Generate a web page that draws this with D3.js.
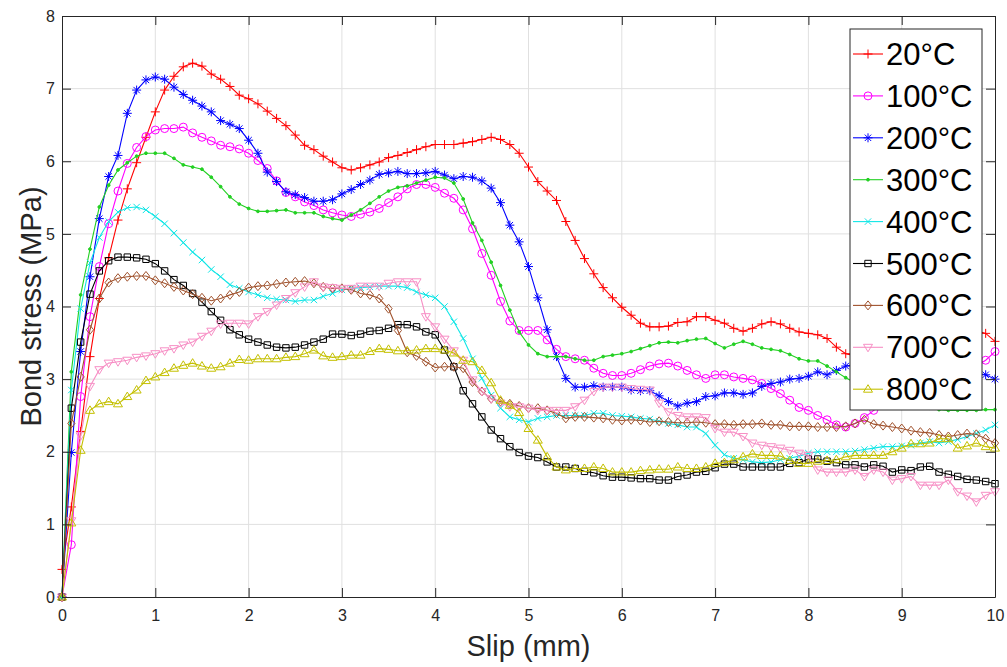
<!DOCTYPE html>
<html>
<head>
<meta charset="utf-8">
<script src="https://cdn.jsdelivr.net/npm/d3@7"></script>
<style>
  body { margin: 0; background: #ffffff; }
  svg text { font-family: Arial, "Liberation Sans", Helvetica, sans-serif; }
</style>
</head>
<body>
<svg id="chart" width="1007" height="667"></svg>
<script>
// ---------------- DATA ----------------
const slip = [0.0,0.1,0.2,0.3,0.4,0.5,0.6,0.7,0.8,0.9,
  1.0,1.1,1.2,1.3,1.4,1.5,1.6,1.7,1.8,1.9,
  2.0,2.1,2.2,2.3,2.4,2.5,2.6,2.7,2.8,2.9,
  3.0,3.1,3.2,3.3,3.4,3.5,3.6,3.7,3.8,3.9,
  4.0,4.1,4.2,4.3,4.4,4.5,4.6,4.7,4.8,4.9,
  5.0,5.1,5.2,5.3,5.4,5.5,5.6,5.7,5.8,5.9,
  6.0,6.1,6.2,6.3,6.4,6.5,6.6,6.7,6.8,6.9,
  7.0,7.1,7.2,7.3,7.4,7.5,7.6,7.7,7.8,7.9,
  8.0,8.1,8.2,8.3,8.4,8.5,8.6,8.7,8.8,8.9,
  9.0,9.1,9.2,9.3,9.4,9.5,9.6,9.7,9.8,9.9,10.0];

const stress20 = [0.38,1.24,2.28,3.31,4.11,4.67,5.19,5.62,5.98,6.33,
  6.68,6.98,7.17,7.30,7.35,7.31,7.20,7.13,7.03,6.91,
  6.86,6.79,6.69,6.59,6.49,6.36,6.22,6.16,6.07,5.99,
  5.91,5.88,5.91,5.95,5.99,6.05,6.08,6.12,6.16,6.20,
  6.23,6.23,6.23,6.25,6.27,6.30,6.33,6.30,6.23,6.11,
  5.92,5.72,5.59,5.46,5.17,4.91,4.66,4.45,4.26,4.12,
  3.99,3.88,3.77,3.72,3.72,3.73,3.78,3.79,3.86,3.86,
  3.81,3.77,3.70,3.66,3.70,3.76,3.79,3.76,3.70,3.65,
  3.63,3.61,3.56,3.44,3.35,3.32,3.34,3.37,3.40,3.43,
  3.46,3.49,3.52,3.54,3.56,3.58,3.61,3.64,3.67,3.63,3.52];

const stress100 = [0,0.72,2.76,3.86,4.55,5.14,5.59,5.97,6.19,6.34,
  6.43,6.45,6.45,6.47,6.39,6.33,6.28,6.22,6.20,6.17,
  6.11,6.01,5.90,5.73,5.57,5.51,5.44,5.39,5.33,5.29,
  5.26,5.24,5.27,5.30,5.35,5.43,5.51,5.62,5.68,5.68,
  5.64,5.56,5.49,5.33,5.07,4.73,4.43,4.07,3.80,3.67,
  3.67,3.67,3.54,3.41,3.31,3.28,3.26,3.15,3.08,3.05,
  3.05,3.08,3.13,3.18,3.21,3.22,3.18,3.12,3.06,3.01,
  3.06,3.06,3.03,3.01,2.99,2.94,2.87,2.80,2.71,2.61,
  2.57,2.50,2.44,2.37,2.34,2.39,2.47,2.57,2.65,2.72,
  2.80,2.88,2.95,3.00,3.05,3.08,3.10,3.13,3.18,3.26,3.38];

const stress200 = [0,1.99,3.38,4.41,5.21,5.79,6.08,6.66,6.98,7.12,
  7.16,7.13,7.02,6.92,6.84,6.76,6.68,6.56,6.51,6.45,
  6.29,6.11,5.85,5.72,5.58,5.54,5.50,5.45,5.45,5.47,
  5.55,5.61,5.68,5.74,5.82,5.84,5.86,5.83,5.83,5.84,
  5.86,5.81,5.76,5.79,5.78,5.73,5.63,5.43,5.12,4.89,
  4.55,4.12,3.68,3.31,3.01,2.89,2.89,2.91,2.89,2.89,
  2.89,2.85,2.84,2.84,2.77,2.69,2.63,2.67,2.69,2.76,
  2.77,2.81,2.81,2.79,2.81,2.90,2.94,2.96,3.00,3.01,
  3.04,3.10,3.06,3.12,3.18,3.20,3.22,3.24,3.25,3.25,
  3.24,3.22,3.20,3.18,3.16,3.14,3.12,3.10,3.08,3.06,3.00];

const stress300 = [0,3.10,4.16,4.79,5.37,5.67,5.88,5.98,6.07,6.11,
  6.11,6.11,6.04,5.95,5.92,5.89,5.78,5.65,5.51,5.41,
  5.35,5.31,5.31,5.32,5.33,5.29,5.29,5.29,5.24,5.21,
  5.19,5.26,5.33,5.42,5.51,5.59,5.64,5.66,5.70,5.74,
  5.78,5.77,5.70,5.48,5.15,4.91,4.61,4.29,3.95,3.65,
  3.47,3.35,3.31,3.31,3.31,3.28,3.26,3.26,3.31,3.33,
  3.35,3.38,3.42,3.46,3.50,3.51,3.50,3.53,3.55,3.56,
  3.49,3.43,3.48,3.52,3.48,3.43,3.41,3.39,3.34,3.28,
  3.25,3.25,3.18,3.10,3.02,2.95,2.88,2.82,2.76,2.72,
  2.68,2.65,2.62,2.60,2.58,2.57,2.57,2.57,2.57,2.58,2.58];

const stress400 = [0,2.85,3.97,4.60,4.95,5.17,5.30,5.36,5.37,5.33,
  5.24,5.14,5.01,4.88,4.75,4.64,4.51,4.41,4.30,4.25,
  4.20,4.16,4.12,4.10,4.09,4.07,4.09,4.09,4.14,4.18,
  4.23,4.25,4.26,4.27,4.28,4.28,4.28,4.26,4.20,4.16,
  4.12,4.00,3.79,3.56,3.28,3.01,2.78,2.60,2.48,2.44,
  2.41,2.46,2.48,2.50,2.50,2.50,2.50,2.53,2.53,2.50,
  2.49,2.48,2.46,2.45,2.42,2.39,2.37,2.34,2.34,2.25,
  2.09,1.96,1.91,1.89,1.86,1.85,1.86,1.89,1.91,1.94,
  1.98,2.00,2.00,2.00,2.00,2.01,2.03,2.05,2.07,2.07,
  2.08,2.09,2.12,2.14,2.12,2.14,2.17,2.21,2.25,2.30,2.37];

const stress500 = [0,2.60,3.51,4.17,4.49,4.63,4.68,4.68,4.67,4.65,
  4.59,4.49,4.37,4.29,4.18,4.06,3.93,3.81,3.68,3.61,
  3.55,3.51,3.47,3.44,3.43,3.44,3.47,3.51,3.55,3.62,
  3.62,3.60,3.62,3.66,3.67,3.70,3.75,3.75,3.72,3.65,
  3.61,3.40,3.17,2.84,2.66,2.48,2.30,2.18,2.07,1.99,
  1.94,1.92,1.86,1.79,1.79,1.77,1.73,1.71,1.67,1.65,
  1.65,1.64,1.63,1.63,1.61,1.61,1.66,1.68,1.72,1.73,
  1.78,1.83,1.83,1.79,1.79,1.79,1.79,1.79,1.84,1.85,
  1.90,1.90,1.87,1.85,1.82,1.82,1.79,1.82,1.80,1.72,
  1.75,1.74,1.79,1.80,1.72,1.69,1.66,1.62,1.61,1.59,1.56];

const stress600 = [0,2.39,3.03,3.68,4.11,4.33,4.39,4.41,4.42,4.42,
  4.36,4.32,4.27,4.22,4.17,4.12,4.08,4.11,4.16,4.20,
  4.26,4.28,4.29,4.31,4.33,4.34,4.35,4.32,4.27,4.25,
  4.25,4.23,4.18,4.16,4.11,3.97,3.67,3.37,3.32,3.24,
  3.16,3.17,3.17,3.15,2.96,2.83,2.73,2.69,2.66,2.63,
  2.60,2.60,2.57,2.53,2.46,2.48,2.48,2.47,2.46,2.44,
  2.43,2.44,2.43,2.41,2.42,2.41,2.40,2.40,2.41,2.40,
  2.38,2.38,2.37,2.38,2.38,2.39,2.37,2.37,2.35,2.35,
  2.35,2.34,2.34,2.34,2.35,2.39,2.44,2.38,2.36,2.34,
  2.32,2.29,2.27,2.26,2.23,2.21,2.23,2.25,2.24,2.18,2.12];

const stress700 = [0,1.05,2.22,2.90,3.13,3.22,3.24,3.26,3.30,3.32,
  3.35,3.39,3.42,3.47,3.51,3.59,3.66,3.76,3.77,3.77,
  3.76,3.86,3.93,4.02,4.11,4.19,4.27,4.34,4.27,4.26,
  4.25,4.25,4.28,4.28,4.28,4.32,4.34,4.34,4.34,3.86,
  3.72,3.55,3.39,3.26,2.99,2.83,2.73,2.67,2.62,2.62,
  2.60,2.57,2.57,2.57,2.57,2.62,2.71,2.83,2.89,2.89,
  2.89,2.87,2.86,2.85,2.67,2.55,2.50,2.48,2.48,2.47,
  2.32,2.27,2.27,2.21,2.12,2.09,2.07,2.05,2.02,1.98,
  1.95,1.75,1.72,1.72,1.72,1.75,1.66,1.75,1.72,1.61,
  1.63,1.66,1.54,1.54,1.54,1.61,1.45,1.39,1.31,1.40,1.45];

const stress800 = [0,1.02,2.02,2.57,2.66,2.69,2.66,2.76,2.85,2.98,
  3.03,3.09,3.15,3.19,3.22,3.18,3.15,3.17,3.22,3.27,
  3.26,3.28,3.28,3.28,3.30,3.31,3.35,3.40,3.32,3.30,
  3.31,3.33,3.33,3.38,3.42,3.41,3.39,3.39,3.40,3.42,
  3.42,3.40,3.36,3.26,3.24,3.12,2.95,2.71,2.64,2.54,
  2.32,2.16,1.93,1.79,1.75,1.77,1.77,1.79,1.77,1.72,
  1.72,1.72,1.74,1.75,1.76,1.76,1.79,1.77,1.77,1.79,
  1.84,1.85,1.89,1.93,1.97,1.95,1.95,1.94,1.88,1.84,
  1.84,1.87,1.88,1.89,1.93,1.95,1.95,1.95,1.95,2.00,
  2.05,2.11,2.11,2.12,2.18,2.18,2.05,2.08,2.12,2.07,2.05];

const seriesNames = ["20°C","100°C","200°C","300°C","400°C","500°C","600°C","700°C","800°C"];
const seriesValues = [stress20,stress100,stress200,stress300,stress400,stress500,stress600,stress700,stress800];
const xTicks = [0,1,2,3,4,5,6,7,8,9,10];
const yTicks = [0,1,2,3,4,5,6,7,8];
const xLabel = "Slip (mm)";
const yLabel = "Bond stress (MPa)";

// ---------------- STYLE ----------------
const colors = ["#ff0000","#ff00ff","#0000ff","#22d022","#10e6e6","#000000","#a0522d","#f78fc5","#c4c000"];
const markers = ["plus","circle","star","dot","x","square","diamond","tridown","triup"];

function markerPath(kind) {
  switch (kind) {
    case "plus": return "M-4.5,0H4.5M0,-4.5V4.5";
    case "circle": return "M4,0A4,4 0 1,1 -4,0A4,4 0 1,1 4,0Z";
    case "star": return "M-4.5,0H4.5M0,-4.5V4.5M-3.2,-3.2L3.2,3.2M-3.2,3.2L3.2,-3.2";
    case "dot": return "M1.4,0A1.4,1.4 0 1,1 -1.4,0A1.4,1.4 0 1,1 1.4,0Z";
    case "x": return "M-3.2,-3.2L3.2,3.2M-3.2,3.2L3.2,-3.2";
    case "square": return "M-3.2,-3.2H3.2V3.2H-3.2Z";
    case "diamond": return "M0,-4.5L3.6,0L0,4.5L-3.6,0Z";
    case "tridown": return "M-4.5,-3L4.5,-3L0,4.5Z";
    case "triup": return "M-4.5,3L4.5,3L0,-4.5Z";
  }
}

// ---------------- CHART ----------------
const svg = d3.select("#chart");
const W = 1007, H = 667;
const pLeft = 62, pRight = 995, pTop = 16, pBottom = 597;

const x = d3.scaleLinear().domain([0, 10]).range([pLeft, pRight]);
const y = d3.scaleLinear().domain([0, 8]).range([pBottom, pTop]);

svg.append("rect").attr("width", W).attr("height", H).attr("fill", "#fff");

// grid
const grid = svg.append("g");
grid.selectAll("line.gx").data(xTicks.slice(1, -1)).enter().append("line")
  .attr("x1", d => x(d)).attr("x2", d => x(d)).attr("y1", pTop).attr("y2", pBottom)
  .attr("stroke", "#e0e0e0").attr("stroke-width", 1);
grid.selectAll("line.gy").data(yTicks.slice(1, -1)).enter().append("line")
  .attr("y1", d => y(d)).attr("y2", d => y(d)).attr("x1", pLeft).attr("x2", pRight)
  .attr("stroke", "#e0e0e0").attr("stroke-width", 1);

// data
const line = d3.line().x((d, i) => x(slip[i])).y(d => y(d));
const plot = svg.append("g");
seriesValues.forEach((vals, k) => {
  const g = plot.append("g");
  g.append("path").datum(vals).attr("d", line)
    .attr("fill", "none").attr("stroke", colors[k]).attr("stroke-width", 1.1);
  g.selectAll("path.m").data(vals).enter().append("path")
    .attr("class", "m")
    .attr("transform", (d, i) => `translate(${x(slip[i])},${y(d)})`)
    .attr("d", markerPath(markers[k]))
    .attr("fill", markers[k] === "dot" ? colors[k] : "none")
    .attr("stroke", colors[k]).attr("stroke-width", 1);
});

// axes
const axisColor = "#262626";
function styleAxis(g) {
  g.select(".domain").attr("stroke", axisColor);
  g.selectAll(".tick line").attr("stroke", axisColor);
  g.selectAll(".tick text").attr("fill", axisColor).attr("font-size", 16);
}
svg.append("g").attr("transform", `translate(0,${pBottom})`)
  .call(d3.axisBottom(x).tickValues(xTicks).tickSizeInner(-9).tickSizeOuter(0).tickPadding(13).tickFormat(d3.format("d")))
  .call(styleAxis);
svg.append("g").attr("transform", `translate(0,${pTop})`)
  .call(d3.axisTop(x).tickValues(xTicks).tickSizeInner(-9).tickSizeOuter(0).tickFormat(""))
  .call(styleAxis);
svg.append("g").attr("transform", `translate(${pLeft},0)`)
  .call(d3.axisLeft(y).tickValues(yTicks).tickSizeInner(-9).tickSizeOuter(0).tickPadding(7).tickFormat(d3.format("d")))
  .call(styleAxis);
svg.append("g").attr("transform", `translate(${pRight},0)`)
  .call(d3.axisRight(y).tickValues(yTicks).tickSizeInner(-9).tickSizeOuter(0).tickFormat(""))
  .call(styleAxis);
svg.selectAll(".domain").attr("stroke-width", 1);

// axis labels
svg.append("text").attr("x", (pLeft + pRight) / 2).attr("y", 656)
  .attr("text-anchor", "middle").attr("font-size", 29).attr("fill", axisColor).text(xLabel);
svg.append("text").attr("transform", `translate(41,${(pTop + pBottom) / 2}) rotate(-90)`)
  .attr("text-anchor", "middle").attr("font-size", 29).attr("fill", axisColor).text(yLabel);

// legend
const lg = svg.append("g");
const lx0 = 850, ly0 = 29, lw = 132, lh = 381;
lg.append("rect").attr("x", lx0).attr("y", ly0).attr("width", lw).attr("height", lh)
  .attr("fill", "#fff").attr("stroke", axisColor).attr("stroke-width", 1);
const rowY = i => 54 + 41.9 * i;
seriesNames.forEach((name, k) => {
  const cy = rowY(k);
  lg.append("line").attr("x1", 853).attr("x2", 883).attr("y1", cy).attr("y2", cy)
    .attr("stroke", colors[k]).attr("stroke-width", 1.1);
  lg.append("path").attr("transform", `translate(868,${cy})`).attr("d", markerPath(markers[k]))
    .attr("fill", markers[k] === "dot" ? colors[k] : "none").attr("stroke", colors[k]).attr("stroke-width", 1);
  lg.append("text").attr("x", 886).attr("y", cy + 11).attr("font-size", 31).attr("fill", "#000").text(name);
});
</script>
</body>
</html>
